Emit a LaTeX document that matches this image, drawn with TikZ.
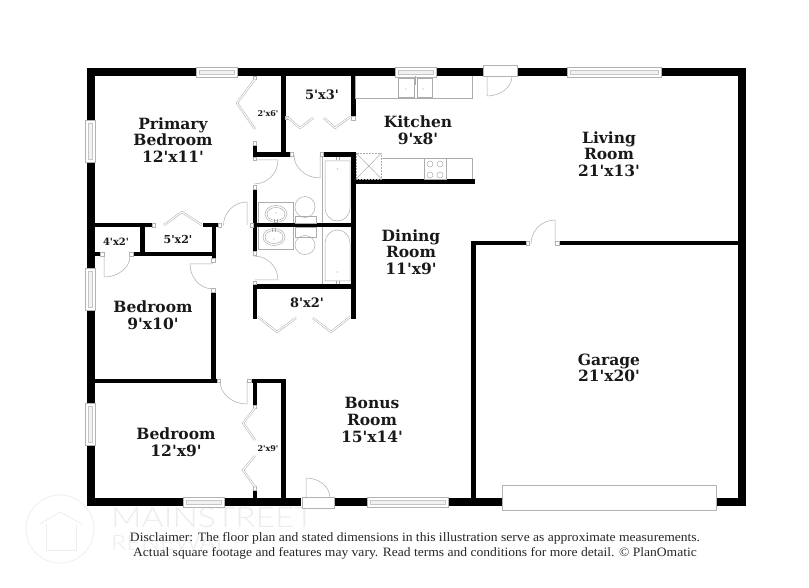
\documentclass[tikz,border=0pt]{standalone}
\usepackage{fontspec}
\newfontfamily\roomface{DejaVu Serif}
\newfontfamily\noteface[FakeStretch=1.06]{Liberation Serif}
\newfontfamily\markface[FakeStretch=1.2]{Lato Light}
\usepackage{tikz}
\tikzset{
  fixture/.style={draw=gray!65, line width=0.5pt},
  jamb/.style={draw=gray!60, fill=white, line width=0.5pt},
  glass/.style={draw=gray!45, fill=gray!10, line width=0.4pt},
  bifold/.style={draw=gray!70, double=white, double distance=1.1pt, line width=0.45pt},
  tap/.style={draw=gray!70, line width=0.7pt},
  roomlabel/.style={align=center, font=\roomface\bfseries\fontsize{15.5}{16.6}\selectfont, inner sep=0pt, text=black!90},
  closetlabel/.style={font=\roomface\bfseries\fontsize{13}{14}\selectfont, inner sep=0pt, text=black!90},
  tinylabel/.style={font=\roomface\bfseries\fontsize{8}{9}\selectfont, inner sep=0pt, text=black!90},
  notelabel/.style={font=\noteface\fontsize{12.8}{15}\selectfont, inner sep=0pt, text=black!85, align=center},
  faintmark/.style={draw=gray!13, line width=0.8pt}
}
\begin{document}
\begin{tikzpicture}[x=1pt, y=-1pt]
\def\wallcolor{black}
\useasboundingbox (0,0) rectangle (809,588);
\fill[white] (0,0) rectangle (809,588);

% WATERMARK
\draw[faintmark] (60,529) circle (34);
\draw[faintmark] (40,524) -- (60,512) -- (82,524);
\draw[faintmark] (46,524) -- (46,550) -- (76,550) -- (76,524);
\node (markone) [anchor=west, inner sep=0pt, text=gray!15, font=\markface\fontsize{28}{29}\selectfont] at (111,518) {MAINSTREET};
\node (marktwo) [anchor=west, inner sep=0pt, text=gray!15, font=\markface\fontsize{21}{22}\selectfont] at (111,543) {RENEWAL};

% OUTER WALLS
\fill[\wallcolor] (87,68) rectangle +(109,8.5);
\fill[\wallcolor] (237,68) rectangle +(158,8.5);
\fill[\wallcolor] (436,68) rectangle +(47,8.5);
\fill[\wallcolor] (516,68) rectangle +(51,8.5);
\fill[\wallcolor] (661,68) rectangle +(85,8.5);
\fill[\wallcolor] (738,68) rectangle +(8,438);
\fill[\wallcolor] (87,68) rectangle +(8,52);
\fill[\wallcolor] (87,162) rectangle +(8,106);
\fill[\wallcolor] (87,310) rectangle +(8,93);
\fill[\wallcolor] (87,445) rectangle +(8,61);
\fill[\wallcolor] (87,497.5) rectangle +(96,8.5);
\fill[\wallcolor] (224,497.5) rectangle +(77,8.5);
\fill[\wallcolor] (334,497.5) rectangle +(33,8.5);
\fill[\wallcolor] (448,497.5) rectangle +(54,8.5);
\fill[\wallcolor] (716,497.5) rectangle +(30,8.5);

% INNER WALLS, UPPER LEFT
\fill[\wallcolor] (281,76) rectangle +(4.5,80);
\fill[\wallcolor] (253,152.5) rectangle +(37,4.5);
\fill[\wallcolor] (252.5,145) rectangle +(4.5,8);
\fill[\wallcolor] (252.5,189) rectangle +(4.5,62);
\fill[\wallcolor] (253,223.5) rectangle +(100,4);
\fill[\wallcolor] (95,223) rectangle +(57,4.5);
\fill[\wallcolor] (203,223) rectangle +(15,4.5);
\fill[\wallcolor] (211.5,223) rectangle +(4.5,35);
\fill[\wallcolor] (140,225) rectangle +(4.5,27);
\fill[\wallcolor] (133,252) rectangle +(80,4.5);
\fill[\wallcolor] (95,252) rectangle +(5,4.5);

% INNER WALLS, KITCHEN AND BATHS
\fill[\wallcolor] (351,76) rectangle +(4.5,44);
\fill[\wallcolor] (323,152.5) rectangle +(32,4.5);
\fill[\wallcolor] (351,152.5) rectangle +(4.5,166.5);
\fill[\wallcolor] (351,179) rectangle +(124,5);
\fill[\wallcolor] (253,284.5) rectangle +(102,4.5);
\fill[\wallcolor] (252.5,284.5) rectangle +(4.5,34.5);

% INNER WALLS, LOWER LEFT
\fill[\wallcolor] (211,292) rectangle +(4.5,90);
\fill[\wallcolor] (95,378.5) rectangle +(122,4.5);
\fill[\wallcolor] (252,378.5) rectangle +(33,4.5);
\fill[\wallcolor] (281,378.5) rectangle +(4.5,119);
\fill[\wallcolor] (252.5,378.5) rectangle +(4.5,26.5);
\fill[\wallcolor] (252.5,490) rectangle +(4.5,8);

% GARAGE WALLS
\fill[\wallcolor] (472,241) rectangle +(54,4);
\fill[\wallcolor] (559,241) rectangle +(179,4);
\fill[\wallcolor] (471,241) rectangle +(4.5,257);

% WINDOWS
\draw[jamb] (196,67) rectangle +(41,10);
\draw[glass] (199,70) rectangle +(35,4);
\draw[jamb] (395,67) rectangle +(41,10);
\draw[glass] (398,70) rectangle +(35,4);
\draw[jamb] (567,67) rectangle +(94,10);
\draw[glass] (570,70) rectangle +(88,4);
\draw[jamb] (85,120) rectangle +(10,42);
\draw[glass] (88,123) rectangle +(4,36);
\draw[jamb] (85,268) rectangle +(10,42);
\draw[glass] (88,271) rectangle +(4,36);
\draw[jamb] (85,403) rectangle +(10,42);
\draw[glass] (88,406) rectangle +(4,36);
\draw[jamb] (183,497) rectangle +(41,10);
\draw[glass] (186,500) rectangle +(35,4);
\draw[jamb] (367,497) rectangle +(81,10);
\draw[glass] (370,500) rectangle +(75,4);

% GARAGE DOOR
\draw[jamb] (502,485) rectangle +(214,25);

% ENTRY DOORS
\draw[jamb] (483,65) rectangle +(34,11.5);
\draw[fixture] (487,76) -- (487,96) arc[start angle=90, end angle=0, x radius=25, y radius=20];
\draw[jamb] (302,497.5) rectangle +(32,11);
\draw[fixture] (306,498) -- (306,478) arc[start angle=-90, end angle=0, x radius=24, y radius=20];

% INNER DOORS
\draw[fixture] (254,160) -- (278,160) arc[start angle=0, end angle=90, radius=24];
\draw[fixture] (320,155) -- (320,178) arc[start angle=90, end angle=180, x radius=26, y radius=23];
\draw[fixture] (247,225) -- (247,202) arc[start angle=-90, end angle=-180, radius=23.5];
\draw[fixture] (255,280) -- (278,280) arc[start angle=0, end angle=-90, radius=24];
\draw[fixture] (104,256) -- (104,277) arc[start angle=90, end angle=0, x radius=26, y radius=21];
\draw[fixture] (213,264) -- (190,264) arc[start angle=180, end angle=90, x radius=23, y radius=25];
\draw[fixture] (247,381) -- (247,404) arc[start angle=90, end angle=180, x radius=27, y radius=23];
\draw[fixture] (555,243) -- (555,220) arc[start angle=-90, end angle=-180, radius=24];

% JAMBS
\draw[jamb] (152,223.5) rectangle +(3.5,3.5);
\draw[jamb] (218,223.5) rectangle +(3.5,3.5);
\draw[jamb] (250,223.5) rectangle +(3.5,3.5);
\draw[jamb] (253,141) rectangle +(3.5,4);
\draw[jamb] (253,157) rectangle +(3.5,3.5);
\draw[jamb] (253,185.5) rectangle +(3.5,3.5);
\draw[jamb] (290,152.5) rectangle +(3.5,4);
\draw[jamb] (320,152.5) rectangle +(3.5,4);
\draw[jamb] (351,116.5) rectangle +(4,3.5);
\draw[jamb] (285.5,116) rectangle +(3,3.5);
\draw[jamb] (253,251) rectangle +(3.5,4);
\draw[jamb] (253,281) rectangle +(3.5,3.5);
\draw[jamb] (100.5,252) rectangle +(3.5,4);
\draw[jamb] (129.5,252) rectangle +(3.5,4);
\draw[jamb] (211.5,258) rectangle +(3.5,4);
\draw[jamb] (211.5,288.5) rectangle +(3.5,3.5);
\draw[jamb] (217,379) rectangle +(3.5,3.5);
\draw[jamb] (247.5,379) rectangle +(4,3.5);
\draw[jamb] (253,405) rectangle +(3.5,3.5);
\draw[jamb] (253,486.5) rectangle +(3.5,3.5);
\draw[jamb] (526,241) rectangle +(3.5,4);
\draw[jamb] (555.5,241) rectangle +(3.5,4);
\draw[jamb] (253,76.5) rectangle +(3.5,3);

% BIFOLD CLOSET DOORS
\draw[bifold] (255,79) -- (237,103) -- (255,129);
\draw[bifold] (164,225) -- (182,212) -- (202,225);
\draw[bifold] (287,117) -- (300,128) -- (313,118);
\draw[bifold] (324,118) -- (335,128) -- (350,117);
\draw[bifold] (258,317) -- (277,332) -- (296,318);
\draw[bifold] (313,318) -- (331,332) -- (350,317);
\draw[bifold] (255,408) -- (243,423) -- (255,440);
\draw[bifold] (255,456) -- (243,470) -- (255,487);

% KITCHEN
\draw[fixture] (355.5,76.5) |- (472,98) -- (472,76.5);
\draw[fixture] (398,78) rectangle +(16,19.5);
\draw[fixture] (417,78) rectangle +(15.5,19.5);
\draw[fixture] (415.5,76) -- (415.5,85);
\fill[gray!70] (406,89) circle (0.7);
\fill[gray!70] (423,89) circle (0.7);
\draw[fixture] (381.5,158) -- (472,158) -- (472,179);
\draw[fixture, densely dotted] (356,153) rectangle +(25.5,26);
\draw[fixture] (356,153) -- (381.5,179);
\draw[fixture] (356,179) -- (381.5,153);
\draw[fixture] (424,158) rectangle +(22,21);
\draw[fixture] (430,164) circle (3);
\draw[fixture] (440,164) circle (3);
\draw[fixture] (430,175) circle (3);
\draw[fixture] (440,175) circle (3);

% BATHS
\draw[fixture] (322,157) -- (322,223.5);
\draw[fixture] (325,161) -- (350,161) -- (350,208) arc[start angle=0, end angle=180, x radius=12.5, y radius=13] -- cycle;
\draw[fixture] (322,227.5) -- (322,284.5);
\draw[fixture] (325,281) -- (350,281) -- (350,243) arc[start angle=0, end angle=-180, x radius=12.5, y radius=13] -- cycle;
\draw[tap] (336,157.5) -- +(0,3);
\draw[tap] (339,157.5) -- +(0,3);
\fill[gray!70] (337.5,169) circle (0.7);
\draw[tap] (336,281) -- +(0,3);
\draw[tap] (339,281) -- +(0,3);
\fill[gray!70] (337.5,272) circle (0.7);

\draw[fixture] (258,202) -- (293,202) -- (293,223.5);
\draw[fixture] (258,202) -- (258,223.5);
\draw[fixture] (258,227.5) -- (258,249) -- (293,249) -- (293,227.5);
\draw[fixture] (276,214) ellipse (11 and 8.5);
\draw[fixture] (276,214) ellipse (9 and 6.5);
\draw[fixture] (274,237) ellipse (11 and 8.5);
\draw[fixture] (274,237) ellipse (9 and 6.5);
\draw[tap] (274.5,219) -- +(0,4);
\draw[tap] (277.5,219) -- +(0,4);
\fill[gray!70] (276,213) circle (0.7);
\draw[tap] (272.5,228) -- +(0,4);
\draw[tap] (275.5,228) -- +(0,4);
\fill[gray!70] (274,239) circle (0.7);

\draw[fixture] (295,216) rectangle +(21,7.5);
\draw[fixture] (305,207) ellipse (10 and 10.5);
\draw[fixture] (295,227.5) rectangle +(21,10);
\draw[fixture] (305,245) ellipse (10 and 9.5);

% ROOM LABELS
\node (primary) [roomlabel] at (173,140) {Primary\\Bedroom\\12'x11'};
\node (kitchen) [roomlabel] at (418,130) {Kitchen\\9'x8'};
\node (living) [roomlabel] at (609,154) {Living\\Room\\21'x13'};
\node (dining) [roomlabel] at (411,252) {Dining\\Room\\11'x9'};
\node (bedroomone) [roomlabel] at (153,315) {Bedroom\\9'x10'};
\node (bedroomtwo) [roomlabel] at (176,442.5) {Bedroom\\12'x9'};
\node (bonus) [roomlabel] at (372,420) {Bonus\\Room\\15'x14'};
\node (garage) [roomlabel] at (609,368) {Garage\\21'x20'};

% CLOSET LABELS
\node (closetkitchen) [closetlabel] at (322,95) {5'x3'};
\node (closethall) [closetlabel] at (307,303) {8'x2'};
\node (closetlinen) [closetlabel, font=\roomface\bfseries\fontsize{11}{12}\selectfont] at (178,239) {5'x2'};
\node (closetsmall) [closetlabel, font=\roomface\bfseries\fontsize{10}{11}\selectfont] at (116,242) {4'x2'};
\node (closetprimary) [tinylabel] at (268,114) {2'x6'};
\node (closetbedroom) [tinylabel] at (268,449) {2'x9'};

% DISCLAIMER
\node (disclaimer) [notelabel] at (415,545.5) {Disclaimer: The floor plan and stated dimensions in this illustration serve as approximate measurements.\\
Actual square footage and features may vary. Read terms and conditions for more detail. \textcopyright{} PlanOmatic};
\end{tikzpicture}
\end{document}
